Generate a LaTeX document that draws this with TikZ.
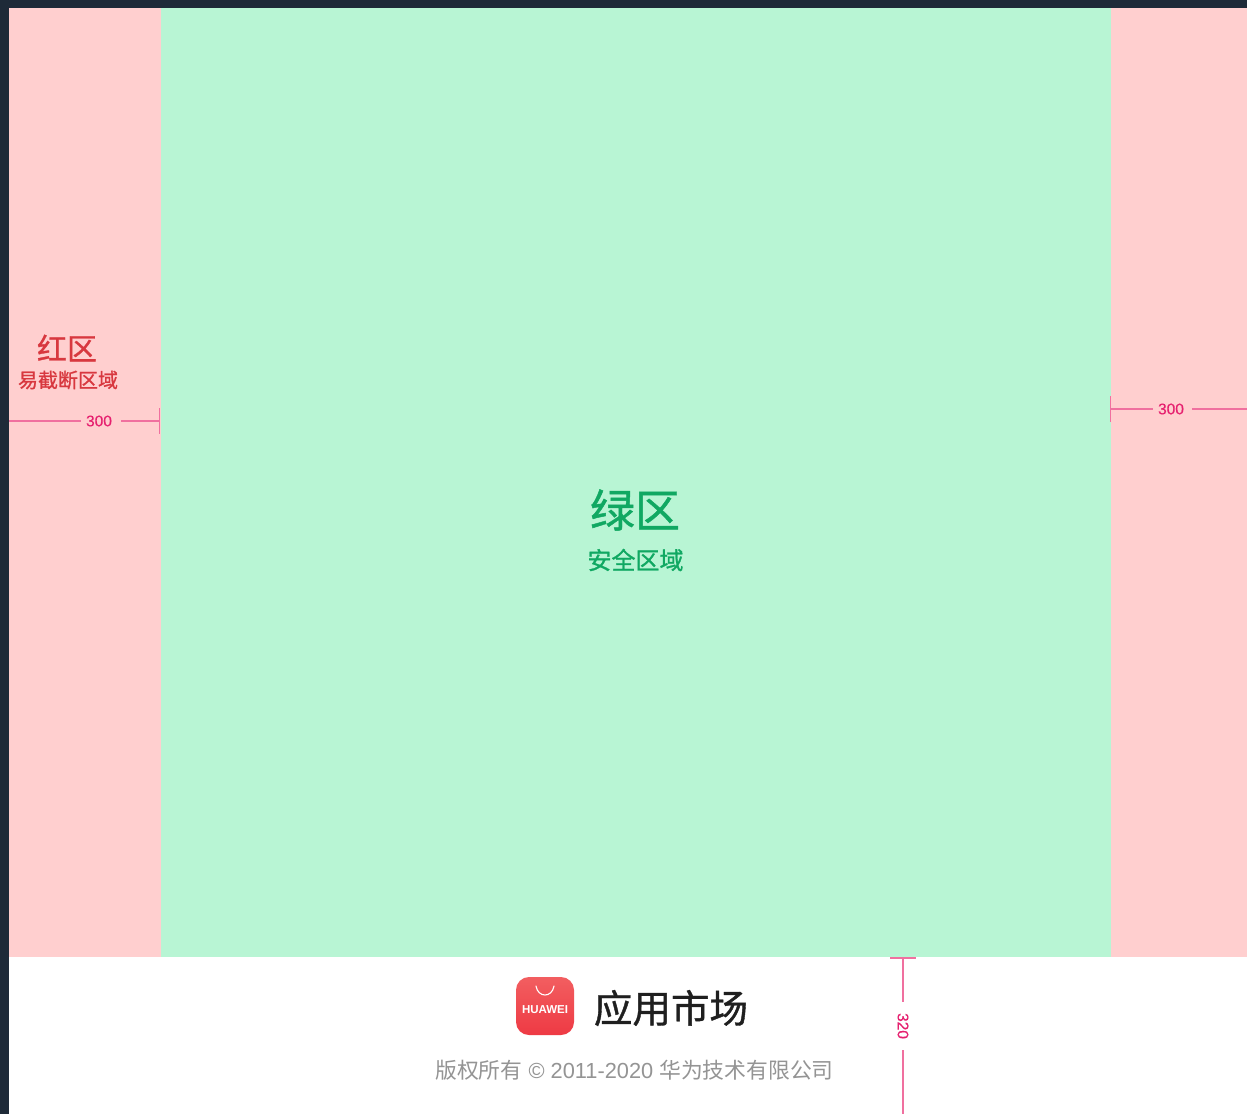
\documentclass[tikz,border=0pt]{standalone}
\usepackage{fontspec}
\setmainfont{Liberation Sans}
\newfontfamily\cjk[FakeBold=1]{Noto Sans CJK SC}
\newfontfamily\cjklight{Noto Sans CJK SC}
\newfontfamily\dimfont[FakeBold=0.3]{Liberation Sans}
\usetikzlibrary{calc}
\definecolor{pagedark}{HTML}{1E2A38}
\definecolor{redzone}{HTML}{FFCFCF}
\definecolor{greenzone}{HTML}{B8F5D4}
\definecolor{redtext}{HTML}{D8383F}
\definecolor{greentext}{HTML}{10A862}
\definecolor{dimline}{HTML}{F0709F}
\definecolor{dimtext}{HTML}{E6206F}
\definecolor{iconTop}{HTML}{F25E60}
\definecolor{iconBottom}{HTML}{EE3A44}
\tikzset{
  dim/.style={draw=dimline, line width=1.3pt},
  dimlabel/.style={text=dimtext, font=\dimfont\fontsize{15.5}{16}\selectfont, inner xsep=5pt, inner ysep=1pt},
  zonelabel/.style={inner sep=0pt, font=\cjk\fontsize{#1}{#1}\selectfont}
}
\begin{document}
\begin{tikzpicture}[x=1pt, y=-1pt]
  \useasboundingbox (0,0) rectangle (1247,1114);
  \fill[pagedark] (0,0) rectangle (1247,1114);
  \fill[white] (9,957) rectangle (1247,1114);
  \fill[redzone] (9,8) rectangle (161,957);
  \fill[redzone] (1110,8) rectangle (1247,957);
  \fill[greenzone] (161,8) rectangle (1110.6,957);

  \node (hongqu) [zonelabel=30, text=redtext] at (67,348) {红区};
  \node (yijieduan) [zonelabel=20, text=redtext] at (68,380) {易截断区域};
  \node (lvqu) [zonelabel=45, text=greentext] at (635,510) {绿区};
  \node (anquan) [zonelabel=24, text=greentext] at (635.5,560) {安全区域};

  % left dimension
  \node (leftlabel) [dimlabel] at (99,421) {300};
  \coordinate (leftstart) at (9,421);
  \coordinate (leftend) at (159.5,421);
  \draw[dim] (leftstart) -- (leftlabel);
  \draw[dim] ($(leftlabel.east)+(4,0)$) -- (leftend);
  \draw[dim] ($(leftend)+(0,-13)$) -- ($(leftend)+(0,13)$);

  % right dimension
  \node (rightlabel) [dimlabel] at (1171,409) {300};
  \coordinate (rightstart) at (1110.5,409);
  \coordinate (rightend) at (1247,409);
  \draw[dim] (rightstart) -- (rightlabel);
  \draw[dim] ($(rightlabel.east)+(3,0)$) -- (rightend);
  \draw[dim] ($(rightstart)+(0,-13)$) -- ($(rightstart)+(0,13)$);

  % bottom dimension
  \node (bottomlabel) [dimlabel, inner xsep=11pt, rotate=-90] at (903,1026) {320};
  \coordinate (bottomstart) at (903,958);
  \coordinate (bottomend) at (903,1114);
  \draw[dim] (bottomstart) -- (bottomlabel);
  \draw[dim] (bottomlabel) -- (bottomend);
  \draw[dim] ($(bottomstart)+(-13,0)$) -- ($(bottomstart)+(13,0)$);

  % app icon
  \node (icon) [minimum size=58pt, inner sep=0pt, rounded corners=13pt, top color=iconTop, bottom color=iconBottom] at (545,1006) {};
  \node (iconname) [inner sep=0pt, text=white, font=\bfseries\fontsize{11.5}{12}\selectfont] at (545,1010) {HUAWEI};
  \coordinate (bagleft) at (536,986);
  \coordinate (bagright) at (554,986);
  \draw[white, line width=1.1pt, line cap=round] (bagleft) .. controls (538,998) and (552,998) .. (bagright);

  \node (appname) [inner sep=0pt, text=black!88, font=\cjk\fontsize{38.5}{39}\selectfont] at (671,1008) {应用市场};
  \node (copyright) [inner sep=0pt, text=black!42, font=\fontsize{21.8}{23}\selectfont] at (634.5,1070) {{\cjklight 版权所有} © 2011-2020 {\cjklight 华为技术有限公司}};
\end{tikzpicture}
\end{document}
